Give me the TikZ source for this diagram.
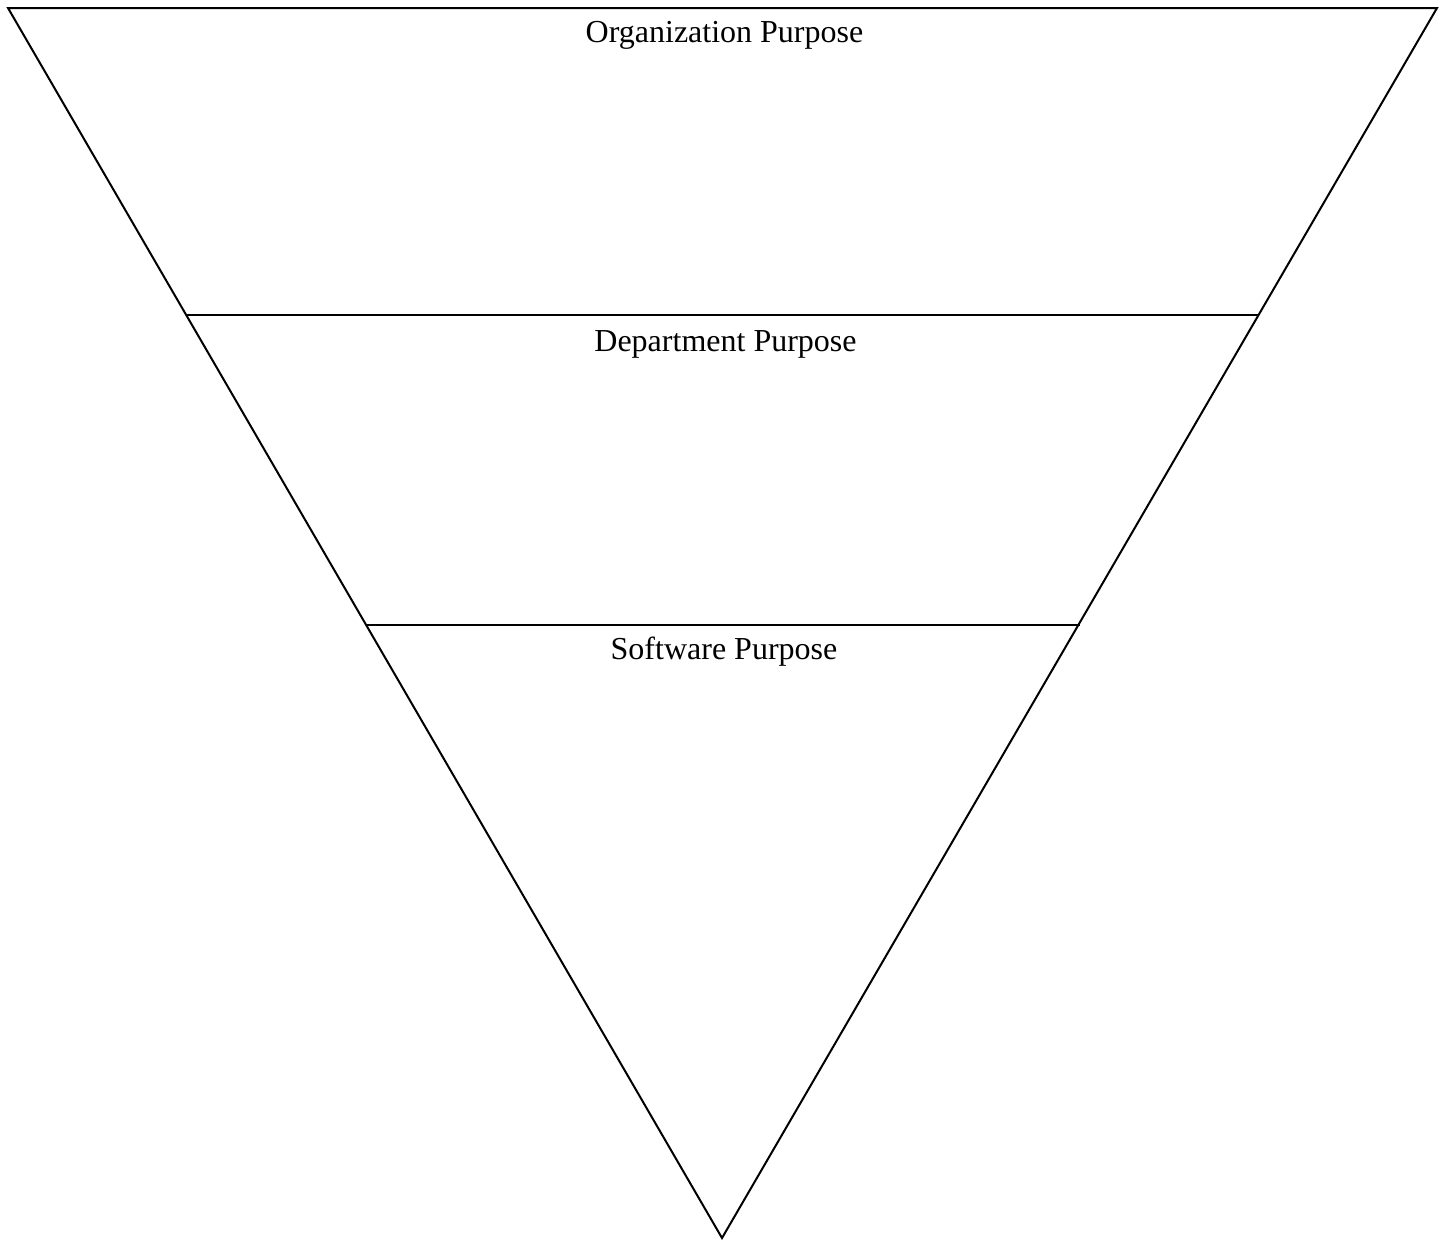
\documentclass[tikz,border=0pt]{standalone}
\usepackage{fontspec}
\setmainfont{Liberation Serif}
\begin{document}
\begin{tikzpicture}[x=1pt,y=-1pt,
  edge/.style={line width=2pt, line join=miter},
  lbl/.style={anchor=base, inner sep=0pt, font=\fontsize{32}{37}\selectfont}]
\useasboundingbox (0,0) rectangle (1445,1245);
\coordinate (tl) at (8,8);
\coordinate (tr) at (1437,8);
\coordinate (apex) at (722,1238);
\coordinate (d1l) at (187,315);
\coordinate (d1r) at (1258,315);
\coordinate (d2l) at (366,625);
\coordinate (d2r) at (1080,625);
\draw[edge] (tl) -- (tr) -- (apex) -- cycle;
\draw[edge] (d1l) -- (d1r);
\draw[edge] (d2l) -- (d2r);
\node[lbl] (org) at (724.5,42) {Organization Purpose};
\node[lbl] (dep) at (725.5,351) {Department Purpose};
\node[lbl] (sw) at (724,659) {Software Purpose};
\end{tikzpicture}
\end{document}
